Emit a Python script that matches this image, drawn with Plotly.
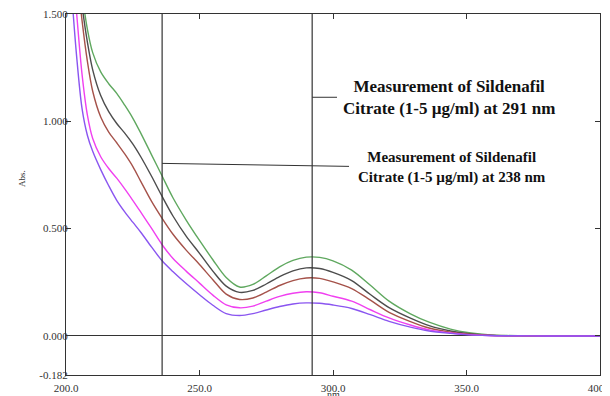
import plotly.graph_objects as go

# Wavelengths (nm)
wavelength = [200, 202, 204, 206, 208, 210, 213, 216, 219, 222, 225, 228, 232, 236, 240,
              245, 250, 255, 260, 265, 270, 275, 280, 285, 290, 295, 300, 307, 314, 321,
              329, 336, 344, 351, 358, 365, 380, 400]

# Absorbance series, top to bottom
abs_green = [2.6, 2.2, 1.86, 1.6, 1.43, 1.32, 1.23, 1.175, 1.13, 1.075, 1.015, 0.945, 0.845, 0.745, 0.645,
             0.54, 0.445, 0.355, 0.272, 0.228, 0.24, 0.28, 0.322, 0.352, 0.367, 0.366, 0.35, 0.307, 0.236, 0.162,
             0.103, 0.064, 0.032, 0.015, 0.006, 0.002, 0.0, 0.0]
abs_gray = [2.4, 2.05, 1.76, 1.54, 1.37, 1.24, 1.12, 1.045, 0.99, 0.945, 0.895, 0.835, 0.745, 0.65, 0.56,
            0.465, 0.385, 0.302, 0.232, 0.203, 0.212, 0.242, 0.276, 0.303, 0.317, 0.314, 0.296, 0.258, 0.193, 0.132,
            0.083, 0.048, 0.023, 0.01, 0.004, 0.001, 0.0, 0.0]
abs_brown = [2.3, 1.96, 1.7, 1.47, 1.28, 1.14, 1.02, 0.95, 0.9, 0.848, 0.79, 0.72, 0.628, 0.548, 0.475,
             0.4, 0.333, 0.262, 0.195, 0.17, 0.177, 0.204, 0.235, 0.258, 0.27, 0.268, 0.252, 0.221, 0.167, 0.11,
             0.067, 0.037, 0.018, 0.008, 0.003, 0.001, 0.0, 0.0]
abs_magenta = [2.2, 1.8, 1.5, 1.22, 1.03, 0.92, 0.835, 0.78, 0.735, 0.685, 0.632, 0.577, 0.502, 0.425, 0.362,
               0.302, 0.246, 0.19, 0.145, 0.131, 0.139, 0.162, 0.184, 0.199, 0.206, 0.201, 0.185, 0.162, 0.122, 0.084,
               0.051, 0.028, 0.014, 0.006, 0.002, 0.001, 0.0, 0.0]
abs_purple = [2.0, 1.62, 1.3, 1.06, 0.935, 0.86, 0.775, 0.7, 0.632, 0.578, 0.53, 0.483, 0.415, 0.35, 0.3,
              0.244, 0.192, 0.143, 0.104, 0.095, 0.104, 0.121, 0.137, 0.149, 0.154, 0.152, 0.144, 0.128, 0.099, 0.068,
              0.041, 0.023, 0.012, 0.005, 0.002, 0.001, 0.0, 0.0]

series = [abs_green, abs_gray, abs_brown, abs_magenta, abs_purple]
colors = ["#5fa85f", "#4d4d4d", "#a5524a", "#f040f0", "#8a55f0"]

# Axis ticks
x_ticks = [200, 250, 300, 350, 400]
y_ticks = [1.5, 1.0, 0.5, 0.0, -0.182]
y_ticktext = ["1.500", "1.000", "0.500", "0.000", "-0.182"]

# Measurement wavelengths marked in the picture
marker_wl = [236, 292.2]
label_291 = "Measurement of Sildenafil<br>Citrate (1-5 µg/ml) at 291 nm"
label_238 = "Measurement of Sildenafil<br>Citrate (1-5 µg/ml) at 238 nm"

# Page has an 8px body margin; size the figure so the plot lands where the reference has it
OFF = 8
W, H = 602, 388
ML, MR, MT, MB = 58, 10, 6, 21
pw, ph = W - ML - MR, H - MT - MB


def px_to_paper(px, py):
    return (px - OFF - ML) / pw, (H - MB - (py - OFF)) / ph


fig = go.Figure()
for ys, c in zip(series, colors):
    fig.add_trace(go.Scatter(x=wavelength, y=ys, mode="lines",
                             line=dict(color=c, width=1.4, shape="spline", smoothing=0.9),
                             showlegend=False, hoverinfo="skip"))

serif = "Liberation Serif, Times New Roman, serif"

# Vertical marker lines
for w in marker_wl:
    fig.add_shape(type="line", x0=w, x1=w, xref="x", y0=0, y1=1, yref="paper",
                  line=dict(color="#333333", width=1.2))

# Callout leader lines
fig.add_shape(type="line", x0=marker_wl[1], x1=301.5, y0=1.112, y1=1.112, xref="x", yref="y",
              line=dict(color="#333333", width=1))
fig.add_shape(type="line", x0=marker_wl[0], x1=306, y0=0.804, y1=0.79, xref="x", yref="y",
              line=dict(color="#333333", width=1))

fig.add_annotation(x=343.5, y=1.112, xref="x", yref="y", text="<b>" + label_291 + "</b>",
                   showarrow=False, font=dict(family=serif, size=17, color="#111111"), align="center")
fig.add_annotation(x=344.5, y=0.783, xref="x", yref="y", text="<b>" + label_238 + "</b>",
                   showarrow=False, font=dict(family=serif, size=15, color="#111111"), align="center")

# Axis titles as annotations
ax_, ay_ = px_to_paper(15, 179)
fig.add_annotation(x=ax_, y=ay_, xref="paper", yref="paper", text="Abs.",
                   textangle=-90, showarrow=False, font=dict(family=serif, size=9, color="#333333"))
nx_, ny_ = px_to_paper(333, 387)
fig.add_annotation(x=nx_, y=ny_, xref="paper", yref="paper", text="nm",
                   showarrow=False, font=dict(family=serif, size=10, color="#333333"), yanchor="top")

fig.update_layout(
    width=W, height=H,
    margin=dict(l=ML, r=MR, t=MT, b=MB),
    plot_bgcolor="white", paper_bgcolor="white",
    xaxis=dict(range=[200, 400], tickvals=x_ticks, tickformat=".1f", automargin=False,
               ticklabeloverflow="allow", ticklabelstandoff=3,
               showgrid=False, zeroline=False, showline=True, linecolor="#333333", linewidth=1.2,
               mirror="ticks", ticks="inside", ticklen=5, tickcolor="#333333",
               tickfont=dict(family=serif, size=11, color="#333333")),
    yaxis=dict(range=[-0.182, 1.5], tickvals=y_ticks, ticktext=y_ticktext, automargin=False,
               ticklabeloverflow="allow",
               showgrid=False, zeroline=True, zerolinecolor="#333333", zerolinewidth=1.2,
               showline=True, linecolor="#333333", linewidth=1.2,
               mirror="ticks", ticks="inside", ticklen=5, tickcolor="#333333",
               ticklabelstandoff=-5,
               tickfont=dict(family=serif, size=11, color="#333333")),
)

fig.write_html("out.html")
